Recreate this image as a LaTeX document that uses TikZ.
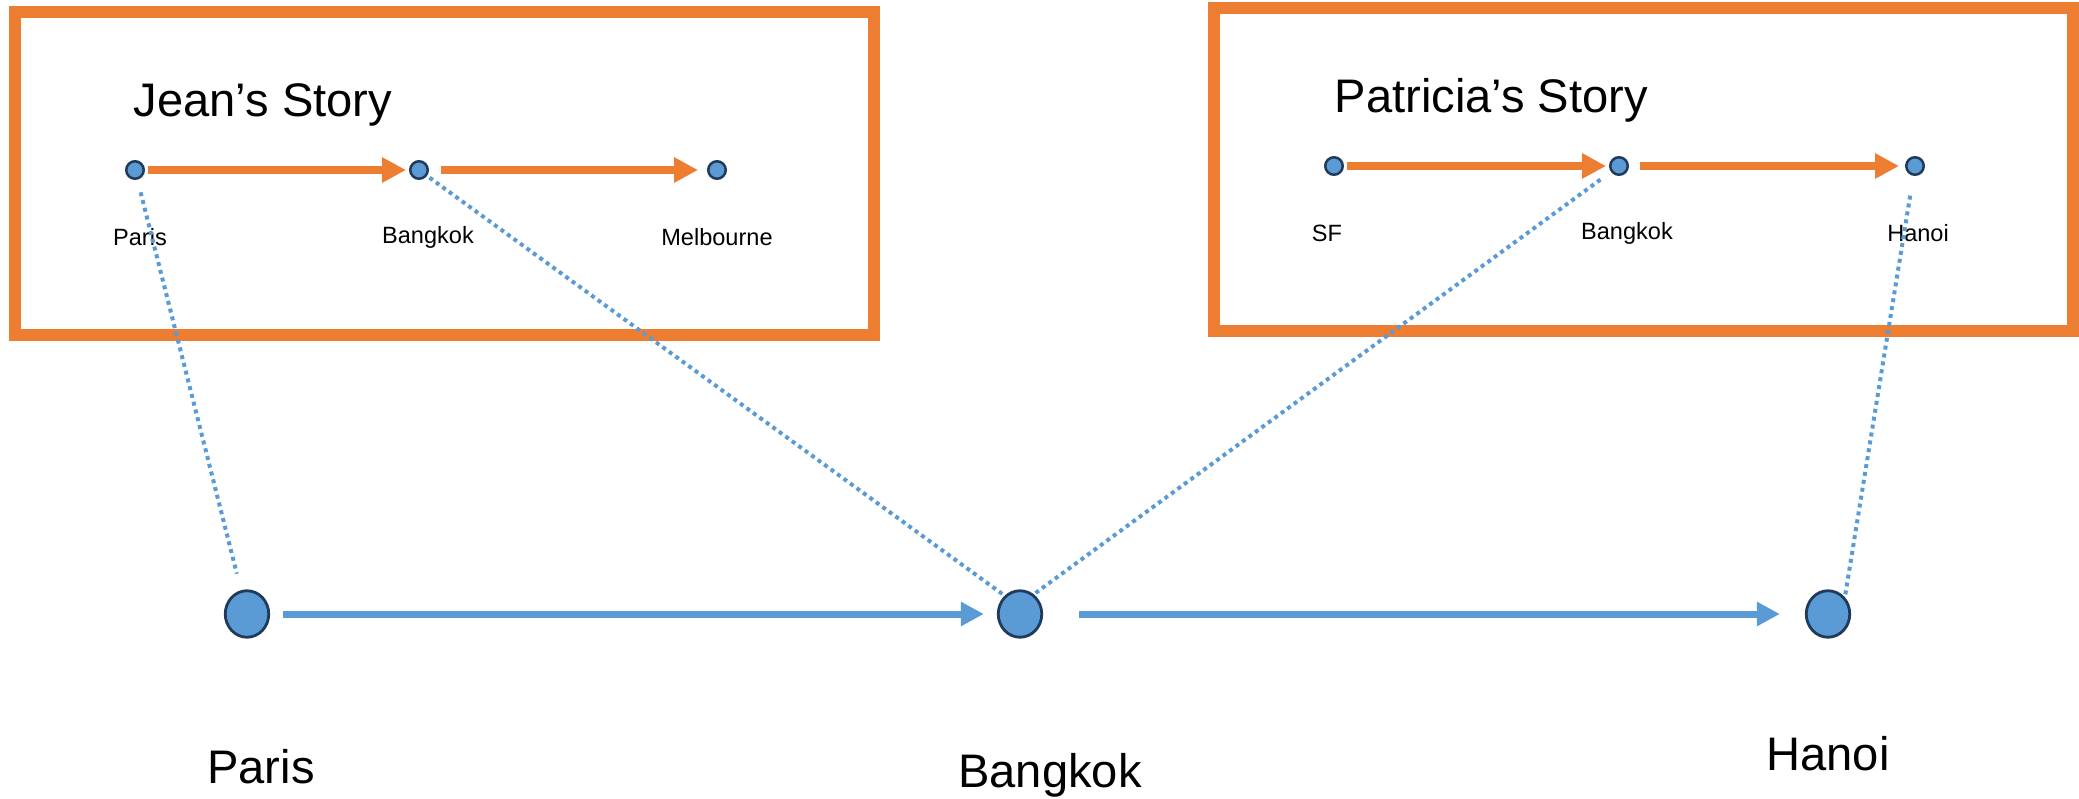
\documentclass[tikz,border=0pt]{standalone}
\usepackage{fontspec}
\setmainfont{Liberation Sans}
\usepackage{tikz}
\usetikzlibrary{arrows.meta}
\usetikzlibrary{shapes.geometric}
\definecolor{storyorange}{HTML}{ED7D31}
\definecolor{cityblue}{HTML}{5B9BD5}
\definecolor{citydark}{HTML}{203A5A}
\tikzstyle{storybox} = [draw=storyorange,line width=1.2mm]
\tikzstyle{smallcity} = [circle,draw=citydark,fill=cityblue,line width=0.25mm,minimum size=1.75mm,inner sep=0pt]
\tikzstyle{bigcity} = [ellipse,draw=citydark,fill=cityblue,line width=0.28mm,minimum width=4.35mm,minimum height=4.65mm,inner sep=0pt]
\tikzstyle{storyarrow} = [storyorange,line width=0.8mm,-{Triangle[length=2.4mm,width=2.4mm]}]
\tikzstyle{cityarrow} = [cityblue,line width=0.7mm,-{Triangle[length=2.3mm,width=2.3mm]}]
\tikzstyle{linkdots} = [cityblue,line width=0.4mm,dash pattern=on 0.4mm off 0.4mm]
\tikzstyle{titletext} = [inner sep=0pt,anchor=base west,font=\fontsize{13.4}{16}\selectfont]
\tikzstyle{smalltext} = [inner sep=0pt,anchor=base,font=\fontsize{6.7}{8}\selectfont]
\tikzstyle{bigtext} = [inner sep=0pt,anchor=base,font=\fontsize{13.4}{16}\selectfont]

\begin{document}
\begin{tikzpicture}[x=0.1mm,y=-0.1mm]
\useasboundingbox (0,0) rectangle (2079,799);

% story boxes
\draw [storybox] (15,12) rectangle (874,335);
\draw [storybox] (1214,8) rectangle (2073,331);

\node [titletext] (JTITLE) at (133,117) {Jean’s Story};
\node [titletext] (PTITLE) at (1334,113) {Patricia’s Story};

% Jean
\node [smallcity] (JPAR) at (135,170) {};
\node [smallcity] (JBKK) at (419,170) {};
\node [smallcity] (JMEL) at (717,170) {};
\node [smalltext] (JPARL) at (140,246) {Paris};
\node [smalltext] (JBKKL) at (428,243) {Bangkok};
\node [smalltext] (JMELL) at (717,246) {Melbourne};
\draw [storyarrow,shorten <=0.3mm,shorten >=0.3mm] (JPAR) -- (JBKK);
\draw [storyarrow,shorten <=1.2mm,shorten >=0.9mm] (JBKK) -- (JMEL);

% Patricia
\node [smallcity] (PSF) at (1334,166) {};
\node [smallcity] (PBKK) at (1619,166) {};
\node [smallcity] (PHAN) at (1915,166) {};
\node [smalltext] (PSFL) at (1327,242) {SF};
\node [smalltext] (PBKKL) at (1627,240) {Bangkok};
\node [smalltext] (PHANL) at (1918,242) {Hanoi};
\draw [storyarrow,shorten <=0.3mm,shorten >=0.3mm] (PSF) -- (PBKK);
\draw [storyarrow,shorten <=1.1mm,shorten >=0.6mm] (PBKK) -- (PHAN);

% merged
\node [bigcity] (PAR) at (247,614) {};
\node [bigcity] (BKK) at (1020,614) {};
\node [bigcity] (HAN) at (1828,614) {};
\node [bigtext] (PARL) at (261,783) {Paris};
\node [bigtext] (BKKL) at (1050,787) {Bangkok};
\node [bigtext] (HANL) at (1828,770) {Hanoi};
\draw [cityarrow,shorten <=1.3mm,shorten >=1.3mm] (PAR) -- (BKK);
\draw [cityarrow,shorten <=3.6mm,shorten >=2.5mm] (BKK) -- (HAN);

\draw [linkdots,shorten <=1.3mm,shorten >=1.7mm] (JPAR) -- (PAR);
\draw [linkdots,shorten <=0.3mm] (JBKK) -- (BKK.130);
\draw [linkdots,shorten <=1.3mm] (PBKK) -- (BKK.55);
\draw [linkdots,shorten <=2mm] (PHAN) -- (HAN.45);

\end{tikzpicture}
\end{document}
